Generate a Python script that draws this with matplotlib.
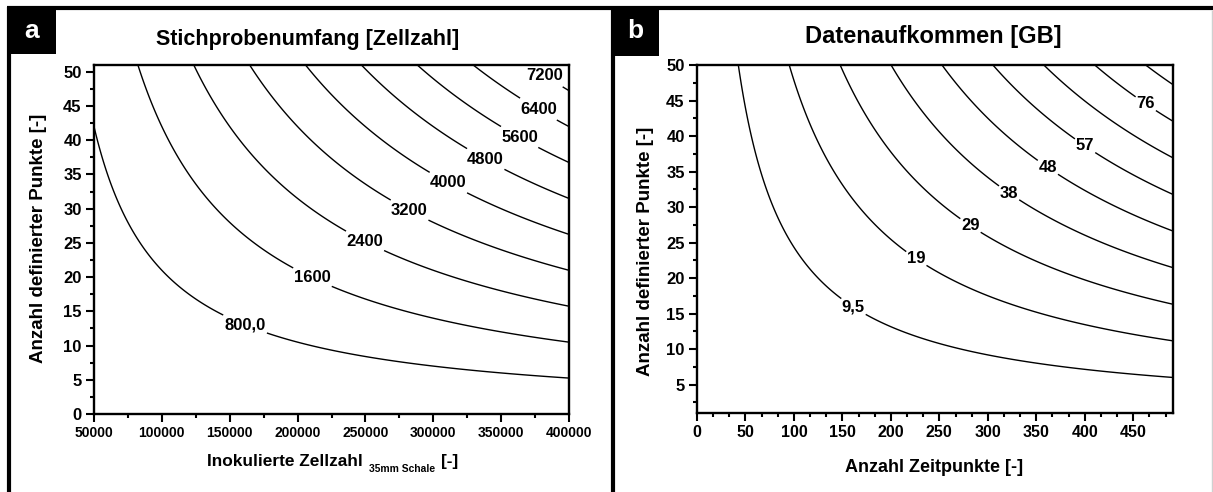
#!/usr/bin/env python3
"""Contour panels: sample size and data volume."""
import matplotlib
matplotlib.use("Agg")
import matplotlib.pyplot as plt
import numpy as np
from matplotlib.lines import Line2D
from matplotlib.patches import Rectangle
from matplotlib.ticker import MultipleLocator

plt.rcParams["font.family"] = ["Liberation Sans", "DejaVu Sans"]
plt.rcParams["font.weight"] = "bold"
plt.rcParams["axes.labelweight"] = "bold"

W, H = 1213, 492

# panel a: Zellzahl = inokulierte Zellen * Punkte * factor
a_x_range = [50000, 400000]
a_y_range = [0, 51]
a_factor = 1 / 2625
a_levels = [800, 1600, 2400, 3200, 4000, 4800, 5600, 6400, 7200]
a_label_text = ["800,0", "1600", "2400", "3200", "4000", "4800", "5600", "6400", "7200"]
a_label_pos = [(161000, 13.0), (211000, 20.0), (249700, 25.3), (282800, 29.9),
               (310800, 33.7), (339300, 37.5), (365100, 41.0), (379100, 45.1),
               (379800, 48.8)]

# panel b: GB = factor * (Zeitpunkte + x0) * (Punkte + y0)
b_x_range = [0, 491]
b_y_range = [1, 50]
b_factor = 0.00368
b_x0 = 9.9
b_y0 = -0.85
b_levels = [9.5, 19, 28.5, 38, 47.5, 57, 66.5, 76, 85.5]
b_label_levels = [9.5, 19, 28.5, 38, 47.5, 57, 76]
b_label_text = ["9,5", "19", "29", "38", "48", "57", "76"]
b_label_pos = [(163.8, 16.5), (230, 23.5), (286, 28.2), (327, 33.0),
               (367, 36.6), (406.6, 39.9), (469.6, 45.9)]


def px_box(left, top, right, bottom):
    return [left / W, 1 - bottom / H, (right - left) / W, (bottom - top) / H]


def style_axes(ax, xsize):
    for s in ax.spines.values():
        s.set_linewidth(1.7)
    ax.tick_params(which="both", direction="out", top=False, right=False, width=1.5, pad=2.9)
    ax.tick_params(which="major", length=6)
    ax.tick_params(which="minor", length=3)
    ax.tick_params(axis="y", labelsize=12)
    ax.tick_params(axis="x", labelsize=xsize)


def contour_panel(ax, xr, yr, field, levels, lab_levels, lab_text, lab_pos, fs):
    x = np.linspace(xr[0], xr[1], 500)
    y = np.linspace(yr[0], yr[1], 500)
    X, Y = np.meshgrid(x, y)
    Z = field(X, Y)
    ax.set_xlim(xr)
    ax.set_ylim(yr)
    plain = [lv for lv in levels if lv not in lab_levels]
    if plain:
        ax.contour(X, Y, Z, levels=plain, colors="black", linewidths=1.0)
    cs = ax.contour(X, Y, Z, levels=lab_levels, colors="black", linewidths=1.0)
    texts = ax.clabel(cs, fmt=dict(zip(cs.levels, lab_text)),
                      manual=lab_pos, inline=True, inline_spacing=3, fontsize=fs)
    for t in texts:
        t.set_rotation(0)
        t.set_fontweight("bold")


fig = plt.figure(figsize=(W / 100, H / 100), dpi=100)

# panel a
ax1 = fig.add_axes(px_box(94, 65, 569, 414))
contour_panel(ax1, a_x_range, a_y_range, lambda X, Y: a_factor * X * Y,
              a_levels, a_levels, a_label_text, a_label_pos, 12)
ax1.xaxis.set_major_locator(MultipleLocator(50000))
ax1.xaxis.set_minor_locator(MultipleLocator(25000))
ax1.yaxis.set_major_locator(MultipleLocator(5))
ax1.yaxis.set_minor_locator(MultipleLocator(2.5))
style_axes(ax1, 10)
ax1.set_ylabel("Anzahl definierter Punkte [-]", fontsize=13.5, va="center")
ax1.yaxis.set_label_coords((39 - 94) / 475, (414 - 238) / 349)

# panel b
ax2 = fig.add_axes(px_box(697, 65, 1173, 413))
contour_panel(ax2, b_x_range, b_y_range,
              lambda X, Y: b_factor * (X + b_x0) * (Y + b_y0),
              b_levels, b_label_levels, b_label_text, b_label_pos, 12)
ax2.xaxis.set_major_locator(MultipleLocator(50))
ax2.xaxis.set_minor_locator(MultipleLocator(50 / 3))
ax2.yaxis.set_major_locator(MultipleLocator(5))
ax2.yaxis.set_minor_locator(MultipleLocator(2.5))
style_axes(ax2, 11.5)
ax2.set_xlabel("Anzahl Zeitpunkte [-]", fontsize=13, va="baseline")
ax2.xaxis.set_label_coords((934 - 697) / 476, (413 - 472) / 348)
ax2.set_ylabel("Anzahl definierter Punkte [-]", fontsize=13.5, va="center")
ax2.yaxis.set_label_coords((645 - 697) / 476, (413 - 251) / 348)

# x label of panel a with small subscript, pieced together
renderer = fig.canvas.get_renderer()
t1 = fig.text(207 / W, 1 - 466 / H, "Inokulierte Zellzahl", fontsize=12.4,
              fontweight="bold", ha="left", va="baseline")
x_end = t1.get_window_extent(renderer).x1 + 6
t2 = fig.text(x_end / W, 1 - 472 / H, "35mm Schale", fontsize=7.4,
              fontweight="bold", ha="left", va="baseline")
x_end = t2.get_window_extent(renderer).x1 + 6
fig.text(x_end / W, 1 - 466 / H, "[-]", fontsize=12.4, fontweight="bold",
         ha="left", va="baseline")

# titles
fig.text(307.5 / W, 1 - 44.5 / H, "Stichprobenumfang [Zellzahl]", ha="center",
         va="baseline", fontsize=15.5, fontweight="bold")
fig.text(933 / W, 1 - 43 / H, "Datenaufkommen [GB]", ha="center",
         va="baseline", fontsize=17, fontweight="bold")


# frame lines and panel letters
def fig_line(x0, y0, x1, y1, lw, color="black"):
    fig.add_artist(Line2D([x0 / W, x1 / W], [1 - y0 / H, 1 - y1 / H],
                          transform=fig.transFigure, color=color, lw=lw,
                          solid_capstyle="butt"))


fig_line(7, 8, W, 8, 3)
fig_line(9, 7, 9, H, 3)
fig_line(612.5, 7, 612.5, H, 3)
fig_line(W - 1, 10, W - 1, H, 1, "#d0d0d0")

for left, right, bottom, letter in [(7, 56, 54, "a"), (611, 659, 56, "b")]:
    fig.add_artist(Rectangle((left / W, 1 - bottom / H), (right - left) / W, (bottom - 7) / H,
                             transform=fig.transFigure, facecolor="black", edgecolor="none"))
    fig.text((left + right) / 2 / W, 1 - (7 + bottom) / 2 / H, letter, color="white",
             ha="center", va="center", fontsize=19, fontweight="bold")

fig.savefig("out.png", dpi=100)
